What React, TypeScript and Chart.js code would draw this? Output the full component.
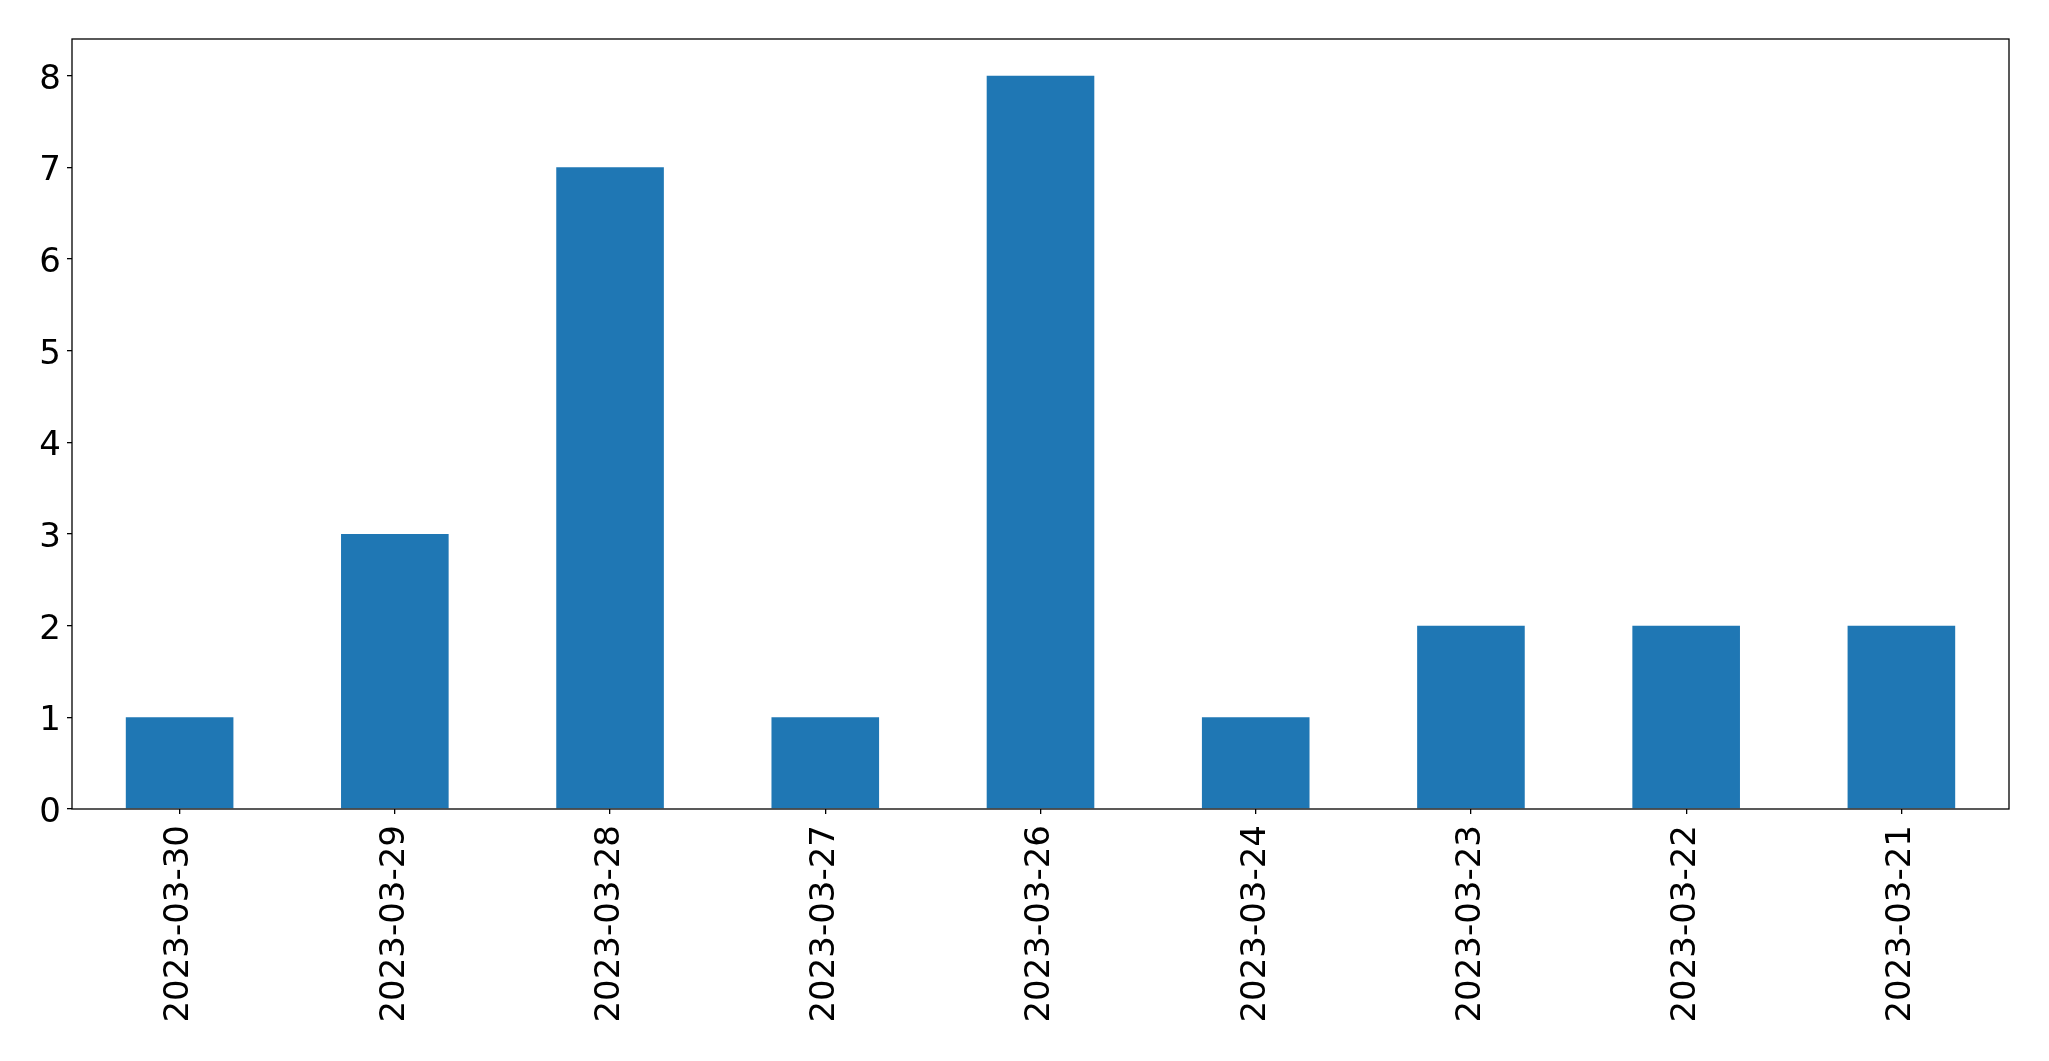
import React, { useEffect, useRef } from "react";
import { Chart, registerables } from "chart.js";

Chart.register(...registerables);

const categories = [
  "2023-03-30",
  "2023-03-29",
  "2023-03-28",
  "2023-03-27",
  "2023-03-26",
  "2023-03-24",
  "2023-03-23",
  "2023-03-22",
  "2023-03-21",
];
const counts = [1, 3, 7, 1, 8, 1, 2, 2, 2];
const yTicks = [0, 1, 2, 3, 4, 5, 6, 7, 8];

const W = 2049;
const H = 1061;

const frame = {
  id: "frame",
  afterDraw(chart: any) {
    const { ctx, chartArea } = chart;
    ctx.save();
    ctx.strokeStyle = "#000";
    ctx.lineWidth = 1.3;
    ctx.strokeRect(chartArea.left, chartArea.top, chartArea.right - chartArea.left, chartArea.bottom - chartArea.top);
    ctx.restore();
  },
};

export default function App() {
  const ref = useRef<HTMLCanvasElement | null>(null);
  useEffect(() => {
    document.body.style.margin = "0";
    const chart = new Chart(ref.current!, {
      type: "bar",
      data: {
        labels: categories,
        datasets: [
          {
            data: counts,
            backgroundColor: "#1f77b4",
            barPercentage: 0.5,
            categoryPercentage: 1,
          },
        ],
      },
      plugins: [frame],
      options: {
        animation: false,
        responsive: false,
        layout: { padding: { top: 39, right: 40, left: 0, bottom: 0 } },
        plugins: { legend: { display: false }, tooltip: { enabled: false } },
        scales: {
          x: {
            offset: true,
            grid: {
              display: true,
              offset: false,
              drawOnChartArea: false,
              drawTicks: true,
              tickLength: 5,
              color: "#000",
              lineWidth: 1.3,
            },
            border: { display: false },
            ticks: {
              color: "#000",
              font: { family: "DejaVu Sans", size: 34 },
              minRotation: 90,
              maxRotation: 90,
              padding: 11,
              autoSkip: false,
            },
            afterFit(scale: any) {
              scale.height = 252;
            },
          },
          y: {
            min: 0,
            max: 8.4,
            afterBuildTicks(scale: any) {
              scale.ticks = yTicks.map((v) => ({ value: v }));
            },
            grid: {
              display: true,
              drawOnChartArea: false,
              drawTicks: true,
              tickLength: 5,
              color: "#000",
              lineWidth: 1.3,
            },
            border: { display: false },
            ticks: {
              color: "#000",
              font: { family: "DejaVu Sans", size: 34, lineHeight: 0.25 },
              padding: 6,
              callback: (v: any) => ["", String(v)],
            },
            afterFit(scale: any) {
              scale.width = 72;
            },
          },
        },
      },
    });
    return () => chart.destroy();
  }, []);
  return (
    <div style={{ width: W, height: H, position: "relative" }}>
      <canvas ref={ref} width={W} height={H} style={{ display: "block", width: W, height: H }} />
    </div>
  );
}
